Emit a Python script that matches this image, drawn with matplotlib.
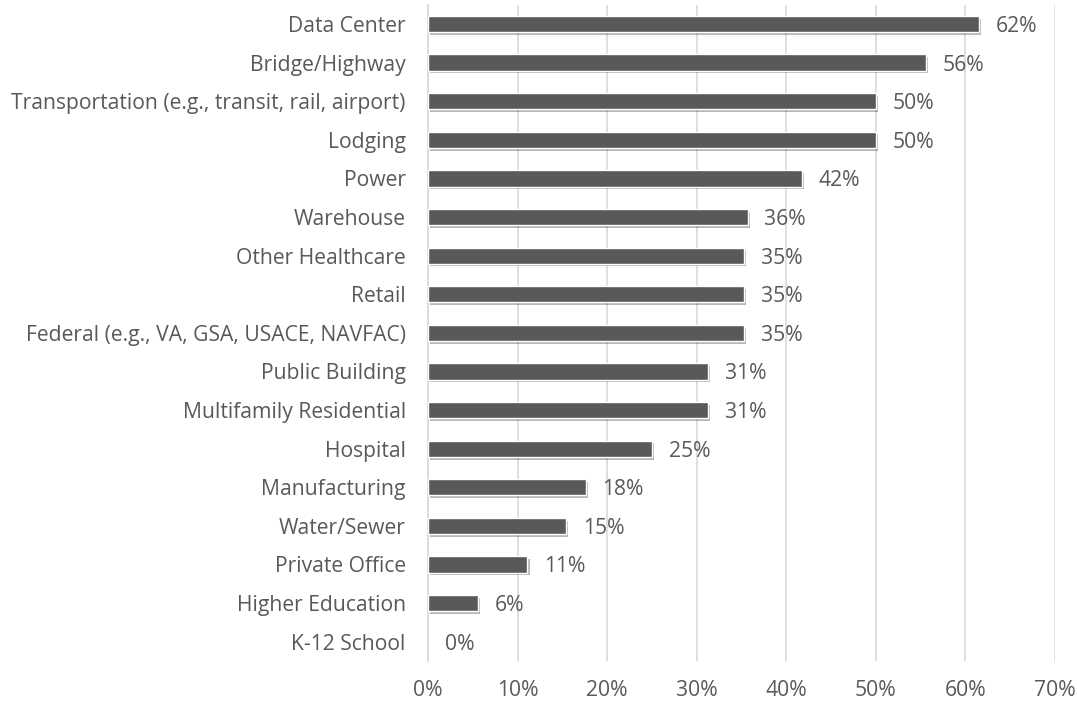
import numpy as np
import matplotlib
matplotlib.use("Agg")
import matplotlib.pyplot as plt
import matplotlib.patheffects as pe

# Data (top to bottom as shown)
categories = [
    "Data Center", "Bridge/Highway", "Transportation (e.g., transit, rail, airport)",
    "Lodging", "Power", "Warehouse", "Other Healthcare", "Retail",
    "Federal (e.g., VA, GSA, USACE, NAVFAC)", "Public Building",
    "Multifamily Residential", "Hospital", "Manufacturing", "Water/Sewer",
    "Private Office", "Higher Education", "K-12 School",
]
values = [61.5, 55.6, 50.0, 50.0, 41.7, 35.7, 35.3, 35.3, 35.3, 31.3,
          31.3, 25.0, 17.6, 15.4, 11.1, 5.6, 0.0]
labels = ["62%", "56%", "50%", "50%", "42%", "36%", "35%", "35%", "35%",
          "31%", "31%", "25%", "18%", "15%", "11%", "6%", "0%"]
xticks = [0, 10, 20, 30, 40, 50, 60, 70]

plt.rcParams['font.family'] = ['Open Sans', 'DejaVu Sans']
text_col = '#595959'
fs = 15.2

fig = plt.figure(figsize=(10.77, 7.05), dpi=100)
ax = fig.add_axes([0.3974, 0.0624, 0.5822, 0.931])

y = np.arange(len(categories))[::-1]
bars = ax.barh(y, values, height=0.42, color='#595959', edgecolor='white',
               linewidth=1.0, zorder=3)
for b in bars:
    if b.get_width() == 0:
        b.set_visible(False)
        continue
    b.set_path_effects([
        pe.SimplePatchShadow(offset=(1.5, -2), shadow_rgbFace='#000000', alpha=0.28),
        pe.Normal(),
    ])

for yi, v, lab in zip(y, values, labels):
    ax.annotate(lab, (v, yi), xytext=(12, 0), textcoords='offset points',
                va='center_baseline', ha='left', fontsize=fs, color=text_col)

ax.set_xlim(0, 70)
ax.set_ylim(-0.5, len(categories) - 0.5)
ax.set_xticks(xticks)
ax.set_xticklabels([f"{t}%" for t in xticks])
ax.set_yticks(y)
ax.set_yticklabels(categories, va='center_baseline')
ax.tick_params(axis='x', length=0, pad=14, labelsize=fs, labelcolor=text_col)
ax.tick_params(axis='y', length=0, pad=16, labelsize=fs, labelcolor=text_col)

ax.grid(axis='x', color='#d9d9d9', linewidth=1.2, zorder=0)
ax.set_axisbelow(True)
for s in ['top', 'right', 'bottom']:
    ax.spines[s].set_visible(False)
ax.spines['left'].set_color('#d9d9d9')
ax.spines['left'].set_linewidth(1.2)

fig.savefig("out.png", dpi=100)
